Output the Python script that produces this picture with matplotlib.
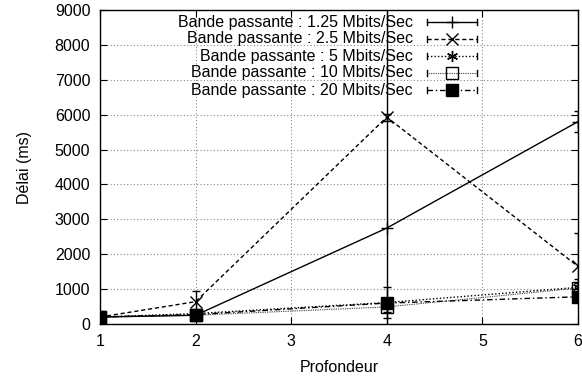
import matplotlib
matplotlib.use("Agg")
import matplotlib.pyplot as plt
from matplotlib.patches import Rectangle
from matplotlib.lines import Line2D

plt.rcParams['font.family'] = ['Liberation Sans', 'DejaVu Sans']

profondeur = [1, 2, 4, 6]
labels = ["Bande passante : 1.25 Mbits/Sec",
          "Bande passante : 2.5 Mbits/Sec",
          "Bande passante : 5 Mbits/Sec",
          "Bande passante : 10 Mbits/Sec",
          "Bande passante : 20 Mbits/Sec"]
delai_125 = [200, 250, 2750, 5800]
err_125 = [30, 60, 9500, 300]
delai_25 = [200, 640, 5930, 1650]
err_25 = [30, 300, 100, 950]
delai_5 = [200, 300, 615, 1050]
err_5 = [30, 60, 445, 250]
delai_10 = [200, 250, 490, 1030]
err_10 = [30, 50, 150, 150]
delai_20 = [200, 270, 600, 780]
err_20 = [30, 50, 100, 100]

series = [delai_125, delai_25, delai_5, delai_10, delai_20]
errors = [err_125, err_25, err_5, err_10, err_20]
styles = [
    dict(ls='-', marker='+', ms=9, mfc='none', lw=1.0),
    dict(ls=(0, (3, 2)), marker='x', ms=9, mfc='none', lw=1.0),
    dict(ls=(0, (1, 1.5)), marker=(6, 2, 0), ms=8, mfc='none', lw=1.0),
    dict(ls=(0, (0.6, 1)), marker='s', ms=8, mfc='none', lw=0.8),
    dict(ls=(0, (4, 2, 1, 2)), marker='s', ms=8, mfc='black', lw=1.0),
]

FS = 11.5

fig = plt.figure(figsize=(5.82, 3.77), dpi=100)
ax = fig.add_axes([100/582, 1-324/377, 478/582, 314/377])
ax.set_xlim(1, 6)
ax.set_ylim(0, 9000)
ax.set_xticks([1, 2, 3, 4, 5, 6])
ax.set_yticks(range(0, 9001, 1000))
ax.grid(True, color='#888888', ls=(0, (1, 2)), lw=0.8, zorder=0)
ax.tick_params(direction='in', length=5, width=0.8, top=True, right=True,
               labelsize=FS, pad=7, color='black')
for s in ax.spines.values():
    s.set_linewidth(1.0)
    s.set_zorder(10)

def px2ax(px, py):
    return (px - 100) / 478, (324 - py) / 314

# opaque legend box (above grid, below data)
x0, y0 = px2ax(170, 97)
x1, y1 = px2ax(485, 13)
ax.add_patch(Rectangle((x0, y0), x1 - x0, y1 - y0, transform=ax.transAxes,
                       facecolor='white', edgecolor='none', zorder=1))

for vals, errs, st in zip(series, errors, styles):
    ax.errorbar(profondeur, vals, yerr=errs, color='black', capsize=3,
                elinewidth=1.0, capthick=1.0, zorder=3, mew=1.0, **st)

# manual legend (gnuplot style: right aligned text, sample on the right)
rows_py = [22, 39, 56, 73, 90]
for lab, st, py in zip(labels, styles, rows_py):
    tx, ty = px2ax(413, py)
    ax.text(tx, ty, lab, transform=ax.transAxes, ha='right', va='center',
            fontsize=FS, zorder=4)
    sx0, _ = px2ax(427, py)
    sx1, _ = px2ax(477, py)
    ax.add_line(Line2D([sx0, sx1], [ty, ty], transform=ax.transAxes,
                       color='black', ls=st['ls'], lw=st['lw'], zorder=4))
    ax.add_line(Line2D([(sx0 + sx1) / 2], [ty], transform=ax.transAxes,
                       color='black', ls='none', marker=st['marker'],
                       ms=st['ms'], mfc=st['mfc'], mew=1.0, zorder=4))
    for sx in (sx0, sx1):
        _, dy = px2ax(0, py - 3)
        ax.add_line(Line2D([sx, sx], [ty - (dy - ty), dy], transform=ax.transAxes,
                           color='black', lw=1.0, zorder=4))

ax.set_xlabel("Profondeur", fontsize=FS, labelpad=8)
ax.set_ylabel("Délai (ms)", fontsize=FS, labelpad=16)

fig.savefig("out.png", dpi=100)
